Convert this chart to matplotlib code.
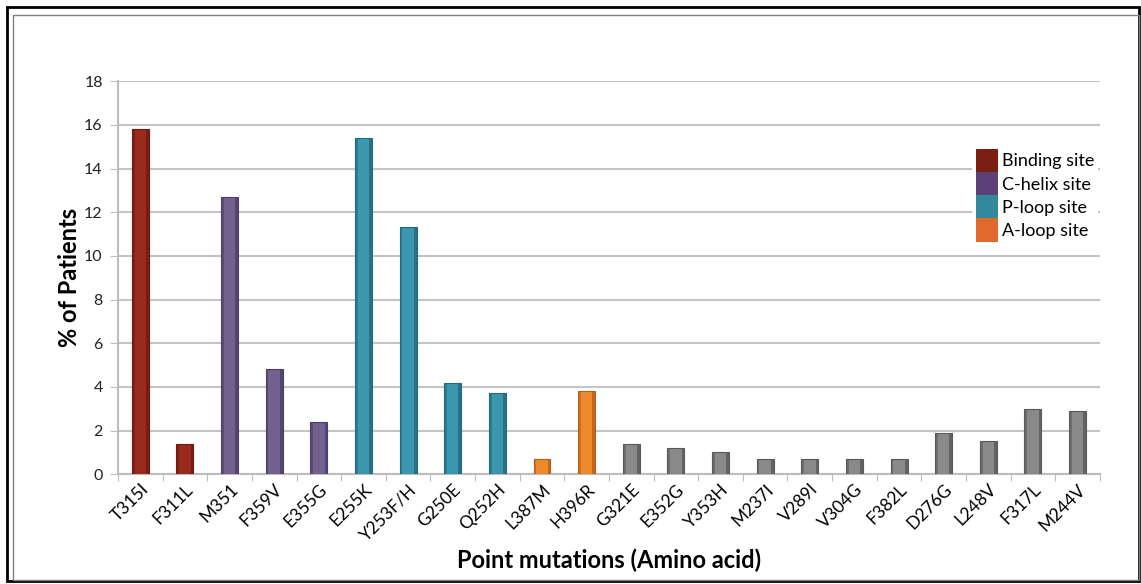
import matplotlib.pyplot as plt
from matplotlib.patches import Patch, Rectangle

# Data
mutations = ["T315I", "F311L", "M351", "F359V", "E355G", "E255K", "Y253F/H",
             "G250E", "Q252H", "L387M", "H396R", "G321E", "E352G", "Y353H",
             "M237I", "V289I", "V304G", "F382L", "D276G", "L248V", "F317L", "M244V"]
patients = [15.8, 1.4, 12.7, 4.8, 2.4, 15.4, 11.3, 4.2, 3.7, 0.7, 3.8,
            1.4, 1.2, 1.0, 0.7, 0.7, 0.7, 0.7, 1.9, 1.5, 3.0, 2.9]
site = ["binding", "binding", "chelix", "chelix", "chelix", "ploop", "ploop",
        "ploop", "ploop", "aloop", "aloop"] + ["other"] * 11

site_names = {"binding": "Binding site", "chelix": "C-helix site",
              "ploop": "P-loop site", "aloop": "A-loop site"}
bar_colors = {"binding": "#9a2a1d", "chelix": "#72608f", "ploop": "#3a97ad",
              "aloop": "#ee8a2e", "other": "#8a8a8a"}
dark_colors = {"binding": "#6e1a12", "chelix": "#4e3e66", "ploop": "#25697a",
               "aloop": "#b5601a", "other": "#5a5a5a"}
legend_colors = {"binding": "#7b1f14", "chelix": "#5b4377", "ploop": "#32899b",
                 "aloop": "#e0692b"}

plt.rcParams["font.family"] = ["Lato", "DejaVu Sans"]

fig = plt.figure(figsize=(11.41, 5.84), dpi=100)
ax = fig.add_axes([0.1034, 0.188, 0.8606, 0.673])

x = range(len(mutations))
w = 0.38
cols = [bar_colors[s] for s in site]
darks = [dark_colors[s] for s in site]
ax.bar(x, patients, width=w, color=cols, edgecolor=darks, linewidth=0.8, zorder=3)
# darker side strips for a bevelled look
ax.bar([i - w * 0.42 for i in x], patients, width=w * 0.16, color=darks,
       linewidth=0, zorder=4, alpha=0.6)
ax.bar([i + w * 0.42 for i in x], patients, width=w * 0.16, color=darks,
       linewidth=0, zorder=4, alpha=0.8)

ax.set_xlim(-0.5, len(mutations) - 0.5)
ax.set_ylim(0, 18)
ax.set_yticks(range(0, 19, 2))
ax.set_xticks([i + 0.5 for i in range(-1, len(mutations))], minor=False)
ax.set_xticklabels([])
ax.set_xticks(list(x), minor=True)
ax.set_xticklabels(mutations, minor=True, rotation=45, ha="right",
                   rotation_mode="anchor", fontsize=12.5)
ax.tick_params(axis="x", which="minor", length=0, pad=5)
ax.tick_params(axis="x", which="major", length=5, color="#bdbdbd", direction="out")
ax.tick_params(axis="y", length=6, color="#bdbdbd", labelsize=11.5, pad=5,
               labelcolor="#222222")

ax.grid(axis="y", color="#c4c4c4", linewidth=1.5, zorder=0)
for s in ["top", "right"]:
    ax.spines[s].set_visible(False)
for s in ["left", "bottom"]:
    ax.spines[s].set_color("#bdbdbd")
    ax.spines[s].set_linewidth(1.5)

ax.set_ylabel("% of Patients", fontsize=17, fontweight="bold", labelpad=2)
ax.set_xlabel("Point mutations (Amino acid)", fontsize=17, fontweight="bold",
              labelpad=4)

handles = [Patch(facecolor=legend_colors[k], edgecolor="none", label=v)
           for k, v in site_names.items()]
leg = ax.legend(handles=handles, loc="upper left", bbox_to_anchor=(0.87, 0.837),
                frameon=True, fancybox=False, edgecolor="none", facecolor="white",
                framealpha=1, fontsize=13, handlelength=1.2, handleheight=1.6,
                handletextpad=0.25, labelspacing=0.0, borderpad=0.2,
                borderaxespad=0)
leg.set_zorder(5)

# figure frame
fig.add_artist(Rectangle((7 / 1141, 3 / 584), 1132 / 1141, 574 / 584,
                         transform=fig.transFigure, fill=False,
                         edgecolor="black", linewidth=2))
fig.add_artist(Rectangle((13 / 1141, 4 / 584), 1126 / 1141, 565 / 584,
                         transform=fig.transFigure, fill=False,
                         edgecolor="#808080", linewidth=1))

fig.savefig("out.png", dpi=100)
